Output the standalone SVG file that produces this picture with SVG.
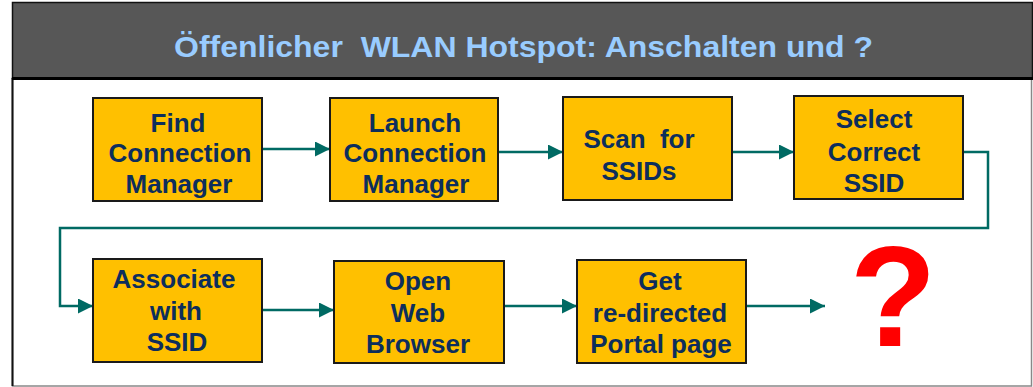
<svg xmlns="http://www.w3.org/2000/svg" width="1033" height="387" viewBox="0 0 1033 387">
<defs>
<style>
.box{fill:#FFC000;stroke:#1a1a1a;stroke-width:2}
.lbl{font-family:"Liberation Sans",Arial,sans-serif;font-weight:bold;font-size:26px;fill:#0D2E5C;text-anchor:middle}
.con{fill:none;stroke:#006A63;stroke-width:2.5}
</style>
<marker id="ah" viewBox="0 0 15 15" refX="15" refY="7.5" markerWidth="15" markerHeight="15" markerUnits="userSpaceOnUse" orient="auto">
<path d="M0,0 L15,7.5 L0,15 Z" fill="#006A63"/>
</marker>
</defs>
<rect x="0" y="0" width="1033" height="387" fill="#ffffff"/>
<g id="frame">
<rect x="12.5" y="78" width="1019" height="308" fill="#ffffff" stroke="#888888" stroke-width="1.5"/>
<line x1="12.5" y1="78" x2="12.5" y2="386" stroke="#111111" stroke-width="2"/>
<rect x="12.5" y="2.5" width="1020" height="76" fill="#575757" stroke="#111111" stroke-width="1.5"/>
<line x1="12" y1="78.5" x2="1033" y2="78.5" stroke="#000000" stroke-width="3"/>
<text x="174" y="57" font-family="'Liberation Sans',Arial,sans-serif" font-weight="bold" font-size="30px" fill="#99CCFF" textLength="699" lengthAdjust="spacingAndGlyphs" xml:space="preserve">Öffenlicher  WLAN Hotspot: Anschalten und ?</text>
</g>
<g id="connectors">
<line class="con" x1="262" y1="149" x2="330" y2="149" marker-end="url(#ah)"/>
<line class="con" x1="498" y1="152" x2="563" y2="152" marker-end="url(#ah)"/>
<line class="con" x1="732" y1="152" x2="794" y2="152" marker-end="url(#ah)"/>
<polyline class="con" points="963,152 988,152 988,228 60,228 60,306 93,306" marker-end="url(#ah)"/>
<line class="con" x1="262" y1="310" x2="334" y2="310" marker-end="url(#ah)"/>
<line class="con" x1="504" y1="306" x2="577" y2="306" marker-end="url(#ah)"/>
<line class="con" x1="746" y1="306" x2="825" y2="306" marker-end="url(#ah)"/>
</g>
<g id="n1"><rect class="box" x="93" y="98" width="169" height="103"/>
<text class="lbl" x="178" y="132">Find</text><text class="lbl" x="180" y="162">Connection</text><text class="lbl" x="179" y="193">Manager</text></g>
<g id="n2"><rect class="box" x="330" y="98" width="168" height="103"/>
<text class="lbl" x="415" y="132">Launch</text><text class="lbl" x="415" y="162">Connection</text><text class="lbl" x="416" y="193">Manager</text></g>
<g id="n3"><rect class="box" x="563" y="97" width="169" height="103"/>
<text class="lbl" x="639" y="148" xml:space="preserve">Scan  for</text><text class="lbl" x="639" y="180">SSIDs</text></g>
<g id="n4"><rect class="box" x="794" y="96" width="169" height="103"/>
<text class="lbl" x="874" y="128">Select</text><text class="lbl" x="874" y="161">Correct</text><text class="lbl" x="874" y="192">SSID</text></g>
<g id="n5"><rect class="box" x="93" y="259" width="169" height="103"/>
<text class="lbl" x="174" y="288">Associate</text><text class="lbl" x="176" y="320">with</text><text class="lbl" x="177" y="351">SSID</text></g>
<g id="n6"><rect class="box" x="334" y="261" width="170" height="102"/>
<text class="lbl" x="418" y="290">Open</text><text class="lbl" x="418" y="322">Web</text><text class="lbl" x="418" y="353">Browser</text></g>
<g id="n7"><rect class="box" x="577" y="260" width="169" height="103"/>
<text class="lbl" x="660" y="290">Get</text><text class="lbl" x="660" y="322">re-directed</text><text class="lbl" x="661" y="353">Portal page</text></g>
<g id="q"><text x="893" y="346" font-family="'Liberation Sans',Arial,sans-serif" font-weight="bold" font-size="142px" fill="#FF0000" text-anchor="middle">?</text></g>
</svg>
